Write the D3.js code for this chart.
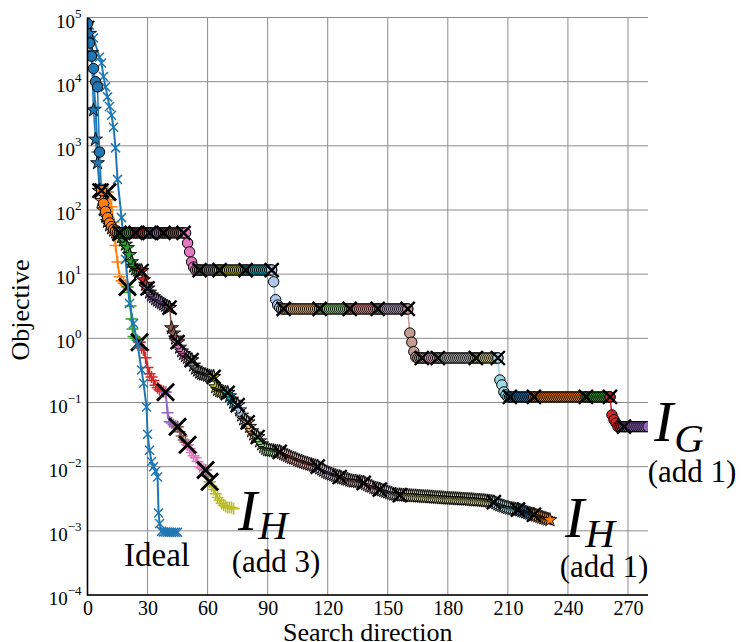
<!DOCTYPE html>
<html><head><meta charset="utf-8">
<script src="https://cdn.jsdelivr.net/npm/d3@7"></script>
<style>
body{margin:0;background:#fff}
svg text{font-family:"Liberation Serif","DejaVu Serif",serif;fill:#000}
</style></head><body>
<svg id="chart" width="741" height="642"></svg>
<script>
// tick values
const xTicks = [0,30,60,90,120,150,180,210,240,270];
const yExps = [-4,-3,-2,-1,0,1,2,3,4,5];

// colour cycle: tab10 followed by its light partners
const palette = ['#1f77b4','#ff7f0e','#2ca02c','#d62728','#9467bd','#8c564b','#e377c2','#7f7f7f','#bcbd22','#17becf',
                 '#aec7e8','#ffbb78','#98df8a','#ff9896','#c5b0d5','#c49c94','#f7b6d2','#c7c7c7','#dbdb8d','#9edae5'];

// Ideal run  [search direction, objective]
const idealPts = [[0,9e4],[1,7.6e4],[3,4.8e4],[6,2.4e4],[7,1.95e4],[8,1.2e4],[9,8.3e3],[10,5.8e3],[11,4.1e3],
  [12,3.0e3],[13,1.95e3],[14,930],[15,300],[17,76],[19,17],[21,3.5],[23,1.7],[25,0.8],[27,0.32],[28,0.2],
  [29.5,0.085],[30,0.032],[31,0.018],[32,0.012],[33,0.010],[34,0.0085],[35,0.0069],[35.5,0.0019],[36,0.0013],
  [37,0.00098],[38,0.00096],[39,0.00096],[40,0.00095],[41,0.00095],[42,0.00095],[43,0.00095],[44,0.00095],[45,0.00095]];

// I_H (add 3): one array per colour segment, [search direction, objective]
const hAdd3Segs = [
  [[0,8e4],[1,5e4],[2,2.5e4],[4,4e3],[5,800],[6,250],[8,200],[10,190]],
  [[10,190],[11,145],[12,112],[13,65],[14,28],[15,15.5],[16,9.1],[17,7.9],[18,7.2],[19,6.8],[20,6.3]],
  [[20,6.3],[21,5.2],[21.5,3.2],[22,2.0],[22.5,1.4],[23,1.07],[24,1.0],[25,0.93],[26,0.87]],
  [[26,0.87],[27,0.71],[28,0.66],[29,0.5],[30,0.35],[31,0.28],[32,0.25],[33,0.22],[34,0.186],[35,0.17],[36,0.158],[37,0.15],[38,0.148],[39,0.145]],
  [[39,0.145],[40,0.069],[41,0.05],[42,0.048],[43,0.045],[44,0.043],[45,0.042]],
  [[45,0.042],[46,0.035],[47,0.030],[48,0.026],[49,0.024],[50,0.022]],
  [[50,0.022],[51,0.019],[52,0.0166],[53,0.0148],[54,0.0138],[55,0.012],[56,0.010],[57,0.0095],[58,0.0091],[59,0.0089]],
  [[59,0.0089],[60,0.0071],[61,0.0058]],
  [[61,0.0058],[62,0.005],[63,0.0044],[64,0.0038],[65,0.0033],[66,0.003],[67,0.0027],[68,0.0025],[69,0.0024],[70,0.0023],[71,0.0023],[72,0.0023],[73,0.0022]]
];

// I_H (add 1): objective at every search direction 0..231, and where each colour segment starts
const hAdd1Obj = [
  8e4,5.6e4,2.8e4,3.6e3,1.26e3,540,200,140,100,79,
  66,58,52,48,45,43,42.5,38,34,29,
  25.7,20,15.5,13.2,12,11.5,11.2,11.2,8.1,6.9,
  6.0,5.2,4.7,4.4,4.1,3.9,3.7,3.55,3.4,3.24,
  3.1,3.0,1.45,1.2,1.0,0.87,0.72,0.63,0.575,0.54,
  0.5,0.48,0.457,0.38,0.34,0.316,0.295,0.282,0.275,0.27,
  0.263,0.257,0.251,0.251,0.174,0.158,0.151,0.148,0.145,0.143,
  0.141,0.126,0.112,0.1,0.095,0.091,0.076,0.063,0.055,0.052,
  0.049,0.042,0.036,0.032,0.030,0.029,0.025,0.0224,0.0204,0.019,
  0.0182,0.018,0.0178,0.0176,0.0174,0.0172,0.017,0.0164,0.0158,0.0153,
  0.0148,0.0143,0.0138,0.0135,0.0132,0.0127,0.0123,0.012,0.0117,0.0114,
  0.0112,0.0109,0.0107,0.0104,0.0102,0.01,0.0095,0.0091,0.0087,0.0083,
  0.008,0.0078,0.0076,0.0074,0.0072,0.007,0.0069,0.0067,0.0066,0.0064,
  0.0063,0.0061,0.006,0.0059,0.0059,0.0058,0.0058,0.0057,0.0056,0.0054,
  0.0052,0.005,0.0049,0.0047,0.0046,0.0045,0.0044,0.0043,0.0042,0.0041,
  0.004,0.0039,0.0038,0.0037,0.0037,0.0036,0.0036,0.00359,0.00358,0.00356,
  0.00355,0.00352,0.0035,0.00349,0.00348,0.00346,0.00345,0.00342,0.0034,0.00339,
  0.00338,0.00336,0.00335,0.00332,0.0033,0.00329,0.00328,0.00326,0.00325,0.00322,
  0.0032,0.00319,0.00318,0.00317,0.00316,0.00314,0.00313,0.00311,0.0031,0.00309,
  0.00308,0.00306,0.00305,0.00302,0.003,0.00299,0.00298,0.00296,0.00295,0.00292,
  0.0029,0.00287,0.00284,0.0028,0.0027,0.0026,0.00252,0.00245,0.0024,0.00234,
  0.00229,0.00224,0.00221,0.00219,0.00216,0.00214,0.00209,0.00204,0.002,0.00195,
  0.0019,0.00186,0.00182,0.00178,0.00174,0.0017,0.00166,0.00162,0.00158,0.00155,
  0.00151,0.00148
];
const hAdd1Breaks = [6,16,27,30,41,45,52,63,70,75,80,85,96,115,126,138,146,156,203,215,223];

// I_G (add 1): objective at every search direction 0..280, and segment starts
const gAdd1Obj = [
  8e4,4e4,2.5e4,1.6e4,1e4,8.3e3,800,200,126,95,
  76,63,55,50,47,45,44,44,44,44,
  44,44,44,44,44,44,44,44,44,44,
  44,44,44,44,44,44,44,44,44,44,
  44,44,44,44,44,44,44,44,44,44,
  30.6,22.2,15.5,12.9,11.6,11.6,11.6,11.6,11.6,11.6,
  11.6,11.6,11.6,11.6,11.6,11.6,11.6,11.6,11.6,11.6,
  11.6,11.6,11.6,11.6,11.6,11.6,11.6,11.6,11.6,11.6,
  11.6,11.6,11.6,11.6,11.6,11.6,11.6,11.6,11.6,11.6,
  11.6,11.6,11.6,7.6,4.0,3.3,3.0,2.87,2.87,2.87,
  2.87,2.87,2.87,2.87,2.87,2.87,2.87,2.87,2.87,2.87,
  2.87,2.87,2.87,2.87,2.87,2.87,2.87,2.87,2.87,2.87,
  2.87,2.87,2.87,2.87,2.87,2.87,2.87,2.87,2.87,2.87,
  2.87,2.87,2.87,2.87,2.87,2.87,2.87,2.87,2.87,2.87,
  2.87,2.87,2.87,2.87,2.87,2.87,2.87,2.87,2.87,2.87,
  2.87,2.87,2.87,2.87,2.87,2.87,2.87,2.87,2.87,2.87,
  2.87,1.21,0.87,0.62,0.51,0.494,0.494,0.494,0.494,0.494,
  0.494,0.494,0.494,0.494,0.494,0.494,0.494,0.494,0.494,0.494,
  0.494,0.494,0.494,0.494,0.494,0.494,0.494,0.494,0.494,0.494,
  0.494,0.494,0.494,0.494,0.494,0.494,0.494,0.494,0.494,0.494,
  0.494,0.494,0.494,0.494,0.494,0.494,0.224,0.188,0.146,0.131,
  0.122,0.122,0.122,0.122,0.122,0.122,0.122,0.122,0.122,0.122,
  0.122,0.122,0.122,0.122,0.122,0.122,0.122,0.122,0.122,0.122,
  0.122,0.122,0.122,0.122,0.122,0.122,0.122,0.122,0.122,0.122,
  0.122,0.122,0.122,0.122,0.122,0.122,0.122,0.122,0.122,0.122,
  0.122,0.122,0.122,0.122,0.122,0.122,0.122,0.122,0.122,0.122,
  0.122,0.122,0.064,0.054,0.048,0.042,0.042,0.042,0.042,0.042,
  0.042,0.042,0.042,0.042,0.042,0.042,0.042,0.042,0.042,0.042,
  0.042
];
const gAdd1Breaks = [7,16,24,31,38,48,56,66,79,92,98,116,131,145,160,167,175,194,205,211,223,249,261,268];

const svg = d3.select('#chart');
const pLeft = 87.5, pRight = 648, pTop = 17.5, pBottom = 595;
const x = d3.scaleLinear().domain([0,280]).range([pLeft,pRight]);
const y = d3.scaleLog().domain([1e-4,1e5]).range([pBottom,pTop]);

// split a per-iteration series into colour segments that share their end points
function toSegs(obj, breaks){
  const pts = obj.map((v,i)=>[i,v]);
  const starts = [0].concat(breaks), segs = [];
  starts.forEach((s,k)=>{
    const e = k+1 < starts.length ? starts[k+1] : pts.length-1;
    segs.push(pts.slice(s, e+1));
  });
  return segs;
}

// grid
const grid = svg.append('g').attr('stroke','#8c8c8c').attr('stroke-width',1);
grid.selectAll('.gx').data(xTicks.slice(1)).join('line')
  .attr('x1',d=>x(d)).attr('x2',d=>x(d)).attr('y1',pTop).attr('y2',pBottom);
grid.selectAll('.gy').data(yExps.map(e=>Math.pow(10,e))).join('line')
  .attr('x1',pLeft).attr('x2',pRight).attr('y1',d=>y(d)).attr('y2',d=>y(d));

// axes (ticks hidden, labels only)
const xAxis = svg.append('g').attr('transform',`translate(0,${pBottom})`)
  .call(d3.axisBottom(x).tickValues(xTicks).tickSize(0).tickPadding(6));
xAxis.select('.domain').remove();
xAxis.attr('font-size',20).attr('font-family',null);

const yAxis = svg.append('g').attr('transform',`translate(${pLeft},0)`)
  .call(d3.axisLeft(y).tickValues(yExps.map(e=>Math.pow(10,e))).tickSize(0).tickFormat(''));
yAxis.select('.domain').remove();
yAxis.attr('font-family',null);
yAxis.selectAll('.tick text').each(function(d){
  const e = Math.round(Math.log10(d));
  const t = d3.select(this).attr('x',-6).attr('y',9.5).attr('dy',null).attr('font-size',19);
  t.append('tspan').text('10');
  t.append('tspan').attr('font-size',13).attr('dy',-10).text(e < 0 ? '\u2212' + (-e) : e);
});

// plot area
svg.append('clipPath').attr('id','clip').append('rect')
  .attr('x',pLeft).attr('y',pTop).attr('width',pRight-pLeft).attr('height',pBottom-pTop);
const plot = svg.append('g').attr('clip-path','url(#clip)');
const line = d3.line().x(d=>x(d[0])).y(d=>y(d[1]));

const crossPath = r => `M${-r},${-r}L${r},${r}M${-r},${r}L${r},${-r}`;
const plusPath = r => `M${-r},0L${r},0M0,${-r}L0,${r}`;
const starPath = d3.symbol(d3.symbolStar, 60)();
const circlePath = d3.symbol(d3.symbolCircle, 85)();

function drawSeries(segs, opt){
  const g = plot.append('g');
  segs.forEach((pts,i)=>{
    const c = opt.color || palette[i % palette.length];
    g.append('path').datum(pts).attr('d',line).attr('fill','none')
      .attr('stroke',c).attr('stroke-width',opt.lw);
    const m = g.append('g').selectAll('path').data(pts).join('path')
      .attr('transform',d=>`translate(${x(d[0])},${y(d[1])})`);
    if (opt.marker === 'x') m.attr('d',crossPath(4.5)).attr('fill','none').attr('stroke',c).attr('stroke-width',1.5);
    if (opt.marker === '+') m.attr('d',plusPath(6)).attr('fill','none').attr('stroke',c).attr('stroke-width',1.5);
    if (opt.marker === '*') m.attr('d',starPath).attr('fill',c).attr('stroke','#000').attr('stroke-width',0.9);
    if (opt.marker === 'o') m.attr('d',circlePath).attr('fill',c).attr('stroke','#000').attr('stroke-width',1);
  });
  if (opt.cross){
    g.append('g').selectAll('path').data(segs.slice(1).map(s=>s[0])).join('path')
      .attr('transform',d=>`translate(${x(d[0])},${y(d[1])})`)
      .attr('d',crossPath(opt.cross)).attr('fill','none')
      .attr('stroke','#000').attr('stroke-width',opt.crossW);
  }
}

drawSeries(hAdd3Segs, {marker:'+', lw:2, cross:8.5, crossW:2.8});
drawSeries([idealPts], {marker:'x', lw:2, color:'#1f77b4'});
drawSeries(toSegs(hAdd1Obj, hAdd1Breaks), {marker:'*', lw:1.5, cross:7, crossW:2.4});
drawSeries(toSegs(gAdd1Obj, gAdd1Breaks), {marker:'o', lw:1.5, cross:7, crossW:2.4});

// spines
svg.append('line').attr('x1',pLeft).attr('x2',pLeft).attr('y1',pTop).attr('y2',pBottom+0.8)
  .attr('stroke','#000').attr('stroke-width',1.6);
svg.append('line').attr('x1',pLeft).attr('x2',pRight).attr('y1',pBottom).attr('y2',pBottom)
  .attr('stroke','#000').attr('stroke-width',1.6);

// axis titles
svg.append('text').attr('x',(pLeft+pRight)/2).attr('y',641).attr('text-anchor','middle')
  .attr('font-size',26).text('Search direction');
svg.append('text').attr('transform','translate(29,310) rotate(-90)').attr('text-anchor','middle')
  .attr('font-size',26).text('Objective');

// series labels
function mathLabel(px, py, sub, subDy, note, noteX, noteY){
  const t = svg.append('text').attr('x',px).attr('y',py);
  t.append('tspan').attr('font-style','italic').attr('font-size',58).text('I');
  t.append('tspan').attr('font-style','italic').attr('font-size',41).attr('dx',1).attr('dy',subDy).text(sub);
  svg.append('text').attr('x',noteX).attr('y',noteY).attr('text-anchor','middle').attr('font-size',31).text(note);
}
svg.append('text').attr('x',124).attr('y',566).attr('font-size',33).text('Ideal');
mathLabel(238, 530, 'H', 9, '(add 3)', 276, 572);
mathLabel(565, 537, 'H', 10, '(add 1)', 604, 577);
mathLabel(654, 441, 'G', 11, '(add 1)', 692, 482);
</script>
</body></html>
